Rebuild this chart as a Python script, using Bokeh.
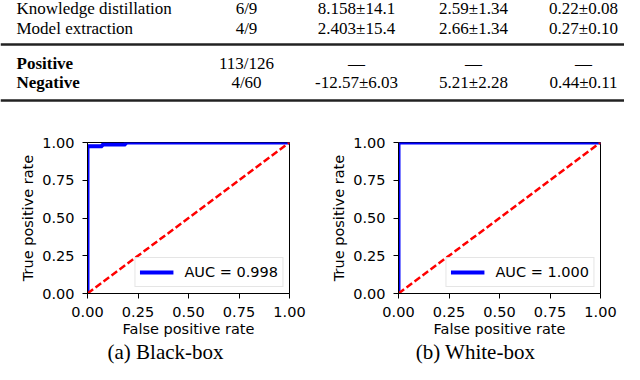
from bokeh.plotting import figure
from bokeh.models import Range1d, FixedTicker, PrintfTickFormatter
from bokeh.layouts import column, row
from bokeh.core.properties import value
from bokeh.embed import file_html
from bokeh.resources import INLINE

# ---------------- data ----------------
row_names = ["Knowledge distillation", "Model extraction", "Positive", "Negative"]
row_bold = [False, False, True, True]
col_ratio = ["6/9", "4/9", "113/126", "4/60"]
col_a = ["8.158\u00b114.1", "2.403\u00b115.4", "\u2014", "-12.57\u00b16.03"]
col_b = ["2.59\u00b11.34", "2.66\u00b11.34", "\u2014", "5.21\u00b12.28"]
col_c = ["0.22\u00b10.08", "0.27\u00b10.10", "\u2014", "0.44\u00b10.11"]

bb_fpr = [0.0, 0.0, 0.073, 0.073, 0.188, 0.188, 1.0]
bb_tpr = [0.0, 0.975, 0.975, 0.987, 0.987, 1.0, 1.0]
bb_label = "AUC = 0.998"
wb_fpr = [0.0, 0.0, 1.0]
wb_tpr = [0.0, 1.0, 1.0]
wb_label = "AUC = 1.000"
chance = [0.0, 1.0]
ticks = [0.0, 0.25, 0.5, 0.75, 1.0]
captions = ["(a) Black-box", "(b) White-box"]

# ---------------- layout constants ----------------
SERIF = value("Liberation Serif")
SANS = "DejaVu Sans"
TFS = 17
row_base = [13, 33, 68, 87]
row_y = [b - 0.31 * TFS for b in row_base]
rule_y = [44, 100]
col_x = [16, 246, 356, 473, 583]

# ---------------- table ----------------
t = figure(width=624, height=130, x_range=Range1d(0, 624), y_range=Range1d(130, 0),
           x_axis_type=None, y_axis_type=None, output_backend="svg",
           toolbar_location=None, min_border=0)
t.grid.visible = False
t.outline_line_color = None

norm_idx = [i for i, b in enumerate(row_bold) if not b]
bold_idx = [i for i, b in enumerate(row_bold) if b]
for idx, style in ((norm_idx, "normal"), (bold_idx, "bold")):
    t.text(x=[col_x[0]] * len(idx), y=[row_y[i] for i in idx], text=[row_names[i] for i in idx],
           text_font=SERIF, text_font_size=f"{TFS}px", text_font_style=style,
           text_align="left", text_baseline="middle", text_color="black")
for cx, col in zip(col_x[1:], (col_ratio, col_a, col_b, col_c)):
    t.text(x=[cx] * len(col), y=row_y, text=col,
           text_font=SERIF, text_font_size=f"{TFS}px",
           text_align="center", text_baseline="middle", text_color="black")
for ry in rule_y:
    t.segment(x0=[0], y0=[ry], x1=[624], y1=[ry], line_width=2.5, line_color="#222222")


# ---------------- ROC plots ----------------
def roc(fpr, tpr, label, mbl, mbr):
    p = figure(frame_width=202, frame_height=151, x_range=Range1d(0, 1), y_range=Range1d(0, 1),
               min_border_left=mbl, min_border_right=mbr, min_border_top=12, min_border_bottom=46,
               output_backend="svg", toolbar_location=None)
    p.grid.visible = False
    p.outline_line_color = "black"
    p.outline_line_width = 1
    p.outline_line_alpha = 1
    p.line(fpr, tpr, line_color="#0000ff", line_width=4, legend_label=label)
    p.line(chance, chance, line_color="#ff0000", line_width=2.5, line_dash="7 3")
    for ax in (p.xaxis[0], p.yaxis[0]):
        ax.ticker = FixedTicker(ticks=ticks)
        ax.formatter = PrintfTickFormatter(format="%.2f")
        ax.minor_tick_line_color = None
        ax.major_tick_out = 5
        ax.major_tick_in = 0
        ax.axis_line_color = "black"
        ax.major_tick_line_color = "black"
        ax.major_label_text_font = SANS
        ax.major_label_text_font_size = "14.5px"
        ax.major_label_text_color = "black"
        ax.axis_label_text_font = SANS
        ax.axis_label_text_font_size = "14.5px"
        ax.axis_label_text_font_style = "normal"
        ax.axis_label_text_color = "black"
    p.xaxis.axis_label = "False positive rate"
    p.yaxis.axis_label = "True positive rate"
    p.xaxis.major_label_standoff = 8
    p.xaxis.axis_label_standoff = 1
    p.yaxis.major_label_standoff = 8
    p.yaxis.axis_label_standoff = 3
    lg = p.legend[0]
    lg.location = "bottom_right"
    lg.margin = 6
    lg.padding = 4
    lg.spacing = 0
    lg.glyph_width = 34
    lg.glyph_height = 20
    lg.label_height = 20
    lg.label_standoff = 11
    lg.label_text_font = SANS
    lg.label_text_font_size = "14.5px"
    lg.label_text_color = "black"
    lg.border_line_color = "#cccccc"
    lg.border_line_width = 1
    lg.background_fill_alpha = 0.8
    return p


pa = roc(bb_fpr, bb_tpr, bb_label, 87, 20)
pb = roc(wb_fpr, wb_tpr, wb_label, 89, 24)

# ---------------- captions ----------------
CFS = 21
c = figure(width=624, height=25, x_range=Range1d(0, 624), y_range=Range1d(364, 339),
           x_axis_type=None, y_axis_type=None, output_backend="svg",
           toolbar_location=None, min_border=0)
c.grid.visible = False
c.outline_line_color = None
cap_y = 351.5
c.text(x=[165, 475], y=[cap_y, cap_y], text=captions, text_font=SERIF, text_font_size=f"{CFS}px",
       text_align="center", text_baseline="middle", text_color="black")

layout = column(t, row(pa, pb), c)
open("out.html", "w").write(file_html(layout, INLINE))
